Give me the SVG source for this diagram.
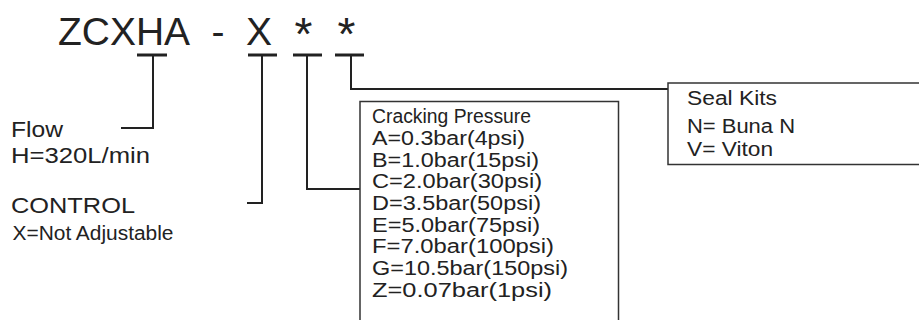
<svg xmlns="http://www.w3.org/2000/svg" width="919" height="320" viewBox="0 0 919 320">
<style>
  text { font-family: "Liberation Sans", Arial, sans-serif; fill: #222; }
  .title { font-size: 39px; }
  .ast { font-size: 46px; }
  .lbl { font-size: 22px; }
  .item { font-size: 20px; }
  .seal { font-size: 19.5px; }
  .bar { stroke: #222; stroke-width: 3; fill: none; }
  .wire { stroke: #222; stroke-width: 2; fill: none; }
  .box { stroke: #333; stroke-width: 1.5; fill: #fff; }
</style>
<rect width="919" height="320" fill="#fff"/>
<g id="title">
  <text class="title" x="58" y="45" textLength="132" lengthAdjust="spacingAndGlyphs">ZCXHA</text>
  <text class="title" x="218" y="45" text-anchor="middle">-</text>
  <text class="title" x="259" y="45" text-anchor="middle">X</text>
  <text class="ast" x="303.5" y="50" text-anchor="middle">*</text>
  <text class="ast" x="346.5" y="50" text-anchor="middle">*</text>
</g>
<g id="connectors">
  <line class="bar" x1="137" y1="55" x2="167" y2="55"/>
  <line class="bar" x1="248" y1="55" x2="277" y2="55"/>
  <line class="bar" x1="293" y1="55" x2="322" y2="55"/>
  <line class="bar" x1="335" y1="55" x2="364" y2="55"/>
  <path class="wire" d="M153,55 V128 H121"/>
  <path class="wire" d="M262,55 V203 H247"/>
  <path class="wire" d="M307,55 V189 H360"/>
  <path class="wire" d="M351,55 V89 H668"/>
</g>
<g id="node-flow">
  <text class="lbl" x="11" y="137" textLength="52" lengthAdjust="spacingAndGlyphs">Flow</text>
  <text class="lbl" x="11" y="163" textLength="139" lengthAdjust="spacingAndGlyphs">H=320L/min</text>
</g>
<g id="node-control">
  <text class="lbl" x="11" y="213" textLength="124" lengthAdjust="spacingAndGlyphs">CONTROL</text>
  <text class="item" x="12.5" y="240" font-size="20.5" textLength="161" lengthAdjust="spacingAndGlyphs">X=Not Adjustable</text>
</g>
<g id="node-cracking">
  <rect class="box" x="360" y="101.5" width="258.5" height="240"/>
  <text class="item" x="372" y="123" textLength="159" lengthAdjust="spacingAndGlyphs">Cracking Pressure</text>
  <text class="item" x="372" y="145" textLength="153" lengthAdjust="spacingAndGlyphs">A=0.3bar(4psi)</text>
  <text class="item" x="372" y="166.5" textLength="167" lengthAdjust="spacingAndGlyphs">B=1.0bar(15psi)</text>
  <text class="item" x="372" y="188.3" textLength="170" lengthAdjust="spacingAndGlyphs">C=2.0bar(30psi)</text>
  <text class="item" x="372" y="210" textLength="169" lengthAdjust="spacingAndGlyphs">D=3.5bar(50psi)</text>
  <text class="item" x="372" y="231.7" textLength="168" lengthAdjust="spacingAndGlyphs">E=5.0bar(75psi)</text>
  <text class="item" x="372" y="253.3" textLength="182" lengthAdjust="spacingAndGlyphs">F=7.0bar(100psi)</text>
  <text class="item" x="372" y="275" textLength="196" lengthAdjust="spacingAndGlyphs">G=10.5bar(150psi)</text>
  <text class="item" x="372" y="296.7" textLength="180" lengthAdjust="spacingAndGlyphs">Z=0.07bar(1psi)</text>
</g>
<g id="node-seal">
  <rect class="box" x="668" y="83" width="270" height="81.5"/>
  <text class="seal" x="687" y="105" textLength="90" lengthAdjust="spacingAndGlyphs">Seal Kits</text>
  <text class="seal" x="687" y="133" textLength="108" lengthAdjust="spacingAndGlyphs">N= Buna N</text>
  <text class="seal" x="687" y="156" textLength="86" lengthAdjust="spacingAndGlyphs">V= Viton</text>
</g>
</svg>
